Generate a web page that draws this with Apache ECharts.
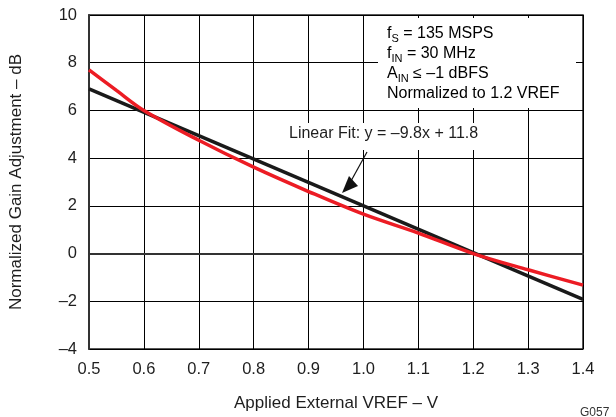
<!DOCTYPE html>
<html>
<head>
<meta charset="utf-8">
<script src="https://cdn.jsdelivr.net/npm/echarts@6/dist/echarts.min.js"></script>
<style>
  html, body { margin: 0; padding: 0; background: #fff; }
  #chart { width: 616px; height: 417px; }
</style>
</head>
<body>
<div id="chart"></div>
<script>
// measured VREF sweep (red) and the linear fit (black)
var vrefMeasured = [0.5, 0.55, 0.6, 0.7, 0.8, 0.9, 1.0, 1.1, 1.2, 1.3, 1.4];
var gainMeasured = [7.7, 6.84, 6.0, 4.75, 3.62, 2.6, 1.65, 0.86, 0.0, -0.68, -1.32];
var vrefFit = [0.5, 1.4];
var gainFit = [6.9, -1.92];

var conditionLines = [
    '{t|f}{sub|S}{t| = 135 MSPS}',
    '{t|f}{sub|IN}{t| = 30 MHz}',
    '{t|A}{sub|IN}{t| ≤ –1 dBFS}',
    '{t|Normalized to 1.2 VREF}'
];
var fitLabel = 'Linear Fit: y = –9.8x + 11.8';

var font = '"Liberation Sans", Arial, Helvetica, sans-serif';
var ink = '#1e1e1e';

function pairs(xs, ys) {
    return xs.map(function (x, i) { return [x, ys[i]]; });
}

var chart = echarts.init(document.getElementById('chart'));
var option = {
    animation: false,
    backgroundColor: '#fff',
    grid: {
        left: 88, right: 33, top: 15, bottom: 66,
        show: true,
        borderColor: '#222',
        borderWidth: 1.5
    },
    xAxis: {
        type: 'value',
        min: 0.5,
        max: 1.4,
        interval: 0.1,
        name: 'Applied External VREF – V',
        nameLocation: 'middle',
        nameGap: 46,
        nameTextStyle: { fontFamily: font, fontSize: 17, color: ink },
        axisLine: { lineStyle: { color: '#333', width: 2 } },
        axisTick: { show: false },
        axisLabel: {
            margin: 12,
            fontFamily: font, fontSize: 16.5, color: ink,
            formatter: function (v) { return v.toFixed(1); }
        },
        splitLine: { lineStyle: { color: '#000', width: 1 } }
    },
    yAxis: {
        type: 'value',
        min: -4,
        max: 10,
        interval: 2,
        name: 'Normalized Gain Adjustment – dB',
        nameLocation: 'middle',
        nameGap: 64,
        nameTextStyle: { fontFamily: font, fontSize: 17, color: ink },
        axisLine: { show: true, lineStyle: { color: '#333', width: 2 } },
        axisTick: { show: false },
        axisLabel: {
            margin: 12,
            fontFamily: font, fontSize: 16.5, color: ink,
            formatter: function (v) { return v < 0 ? '–' + Math.abs(v) : String(v); }
        },
        splitLine: { lineStyle: { color: '#000', width: 1 } }
    },
    series: [
        {
            name: 'fit',
            type: 'line',
            data: pairs(vrefFit, gainFit),
            symbol: 'none',
            z: 3,
            lineStyle: { color: '#1a1a1a', width: 3.5 }
        },
        {
            name: 'measured',
            type: 'line',
            data: pairs(vrefMeasured, gainMeasured),
            symbol: 'none',
            smooth: 0.35,
            z: 4,
            lineStyle: { color: '#ec1c24', width: 3.5 }
        }
    ],
    graphic: [
        // white patches that break the grid behind the notes
        { type: 'rect', z: 1, silent: true, shape: { x: 378, y: 18, width: 198, height: 90 }, style: { fill: '#fff' } },
        { type: 'rect', z: 1, silent: true, shape: { x: 285, y: 123, width: 198, height: 27 }, style: { fill: '#fff' } },
        {
            type: 'text', z: 5, left: 387, top: 24,
            style: {
                text: conditionLines.join('\n'),
                rich: {
                    t: { fontFamily: font, fontSize: 16, color: ink, lineHeight: 20 },
                    sub: { fontFamily: font, fontSize: 11, color: ink, padding: [9, 0, 0, 0], lineHeight: 20 }
                }
            }
        },
        {
            type: 'text', z: 5, left: 289, top: 126,
            style: { text: fitLabel, fontFamily: font, fontSize: 16, fill: ink }
        },
        {
            type: 'line', z: 5,
            shape: { x1: 367, y1: 152, x2: 351, y2: 181 },
            style: { stroke: '#111', lineWidth: 1.2 }
        },
        {
            type: 'polygon', z: 5,
            shape: { points: [[342, 193], [358, 186], [349, 176]] },
            style: { fill: '#111' }
        },
        {
            type: 'text', z: 5, left: 580, top: 407,
            style: { text: 'G057', fontFamily: font, fontSize: 12, fill: '#333' }
        }
    ]
};
chart.setOption(option);
</script>
</body>
</html>
